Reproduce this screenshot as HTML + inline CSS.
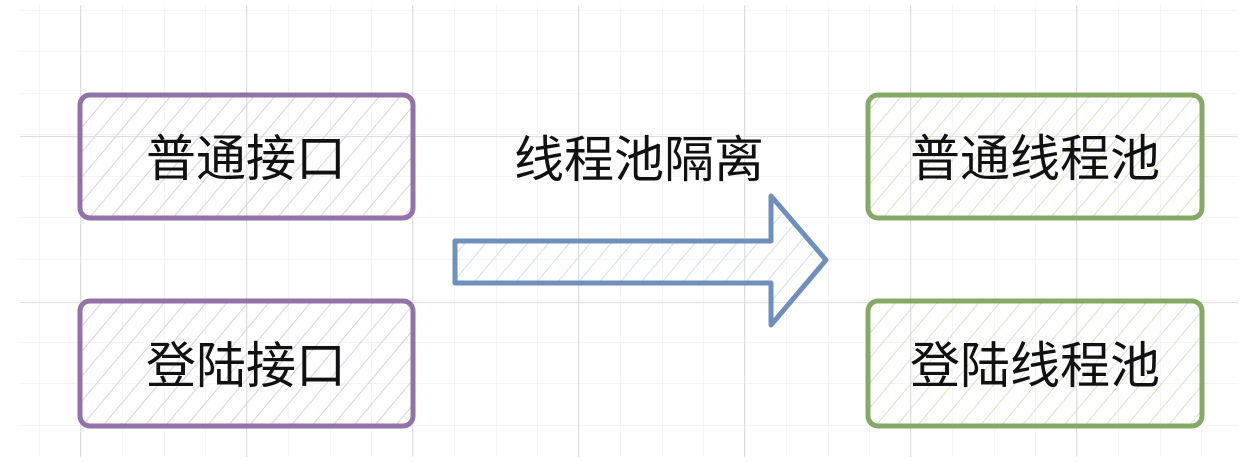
<!DOCTYPE html>
<html><head><meta charset="utf-8"><style>
html,body{margin:0;padding:0;background:#fff;width:1258px;height:462px;overflow:hidden}
text{font-family:"Liberation Sans","Noto Sans CJK SC",sans-serif;font-size:50px;fill:#111}
</style></head><body>
<svg width="1258" height="462" viewBox="0 0 1258 462" xmlns="http://www.w3.org/2000/svg">
<defs>
<pattern id="gmin" x="-2" y="10" width="41.5" height="41.5" patternUnits="userSpaceOnUse">
<path d="M0 0V41.5M0 0H41.5" stroke="#eeeeee" stroke-width="1" fill="none"/>
</pattern>
<pattern id="gmaj" x="80" y="136" width="166" height="166" patternUnits="userSpaceOnUse">
<path d="M0.5 0V166M0 0.5H166" stroke="#e0e0e0" stroke-width="1.2" fill="none"/>
</pattern>
<pattern id="hp" width="16" height="16" patternUnits="userSpaceOnUse" patternTransform="rotate(40)">
<line x1="0" y1="0" x2="0" y2="16" stroke="#dccfe7" stroke-width="2"/></pattern>
<pattern id="hg" width="16" height="16" patternUnits="userSpaceOnUse" patternTransform="rotate(40)">
<line x1="0" y1="0" x2="0" y2="16" stroke="#d3e6c8" stroke-width="2"/></pattern>
<pattern id="hb" width="16" height="16" patternUnits="userSpaceOnUse" patternTransform="rotate(40)">
<line x1="0" y1="0" x2="0" y2="16" stroke="#d2e0f5" stroke-width="2"/></pattern>
</defs>
<rect x="20" y="5" width="1218" height="452" fill="url(#gmin)"/>
<rect x="20" y="5" width="1218" height="452" fill="url(#gmaj)"/>

<g stroke-width="5" stroke-linejoin="round">
<rect x="80" y="95" width="333" height="123" rx="10" fill="url(#hp)" stroke="#9273a8"/>
<rect x="80" y="301" width="333" height="125" rx="10" fill="url(#hp)" stroke="#9273a8"/>
<rect x="868" y="95" width="334" height="123" rx="10" fill="url(#hg)" stroke="#86a965"/>
<rect x="868" y="301" width="334" height="125" rx="10" fill="url(#hg)" stroke="#86a965"/>
<path d="M455 241 L771 241 L771 196 L826 260 L771 325 L771 283 L455 283 Z" fill="url(#hb)" stroke="#6f8fbd"/>
</g>

<text x="246" y="176" text-anchor="middle">普通接口</text>
<text x="246" y="383" text-anchor="middle">登陆接口</text>
<text x="1035" y="176" text-anchor="middle">普通线程池</text>
<text x="1035" y="383" text-anchor="middle">登陆线程池</text>
<text x="639" y="177" text-anchor="middle">线程池隔离</text>
</svg>
</body></html>
